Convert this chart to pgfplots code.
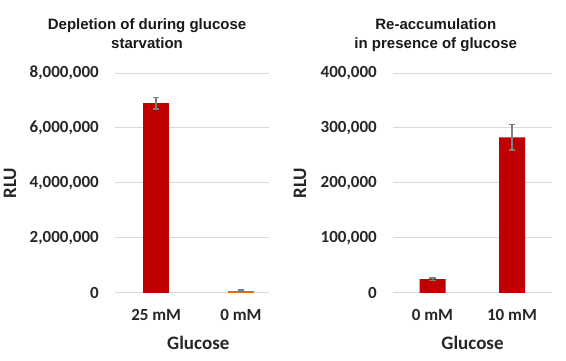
\documentclass[border=0pt]{standalone}
\usepackage{pgfplots}
\pgfplotsset{compat=1.18}
\usepackage{fontspec}
\setmainfont{Carlito}
\newfontfamily\arialf{Liberation Sans}
\definecolor{barred}{HTML}{C00000}
\definecolor{barorange}{HTML}{E46C0A}
\definecolor{gridgray}{HTML}{D9D9D9}
\definecolor{errgray}{HTML}{7F7F7F}
\pgfplotsset{
  mystyle/.style={
    scale only axis,
    height=220pt,
    ymin=0,
    axis line style={draw=none},
    ymajorgrids,
    grid style={gridgray, line width=1pt},
    major tick length=0pt,
    xtick={0,1},
    scaled y ticks=false,
    /pgf/number format/.cd, fixed, 1000 sep={,}, assume math mode=true,
    /pgfplots/.cd,
    ticklabel style={font=\fontsize{17}{20}\selectfont\bfseries\color{black!85}},
    yticklabel style={anchor=east, inner sep=0pt, xshift=-16pt},
    xticklabel style={anchor=base, inner sep=0pt, yshift=-28pt},
    label style={font=\fontsize{19}{22}\selectfont\bfseries\color{black!85}},
    title style={font=\arialf\fontsize{15}{19}\selectfont\bfseries\color{black!90}, align=center, anchor=north, inner sep=0pt},
    ybar,
    bar width=26pt,
    error bars/y dir=both,
    error bars/y explicit,
    error bars/error bar style={errgray, line width=1.5pt},
    error bars/error mark options={errgray, rotate=90, mark size=3.3pt, line width=1.5pt},
  }
}
\begin{document}
\begin{tikzpicture}
\useasboundingbox (0,0) rectangle (566pt,361pt);
\begin{axis}[mystyle,
  at={(115pt,68pt)}, anchor=south west,
  width=154pt,
  xmin=-0.485, xmax=1.33,
  ymax=8000000,
  ytick={0,2000000,4000000,6000000,8000000},
  xticklabels={25 mM, 0 mM},
  title={Depletion of during glucose\\starvation},
  title style={at={(axis description cs:0.208,1.222)}},
  xlabel={Glucose},
  xlabel style={at={(axis description cs:0.541,0)}, anchor=base, yshift=-57pt},
  ylabel={RLU},
  ylabel style={at={(axis description cs:-0.682,0.5)}, anchor=center, rotate=0},
]
\addplot[fill=barred, draw=none, bar shift=0pt] coordinates {(0,6900000) +- (0,207000)};
\addplot[fill=barorange, draw=none, bar shift=0pt] coordinates {(1,85000) +- (0,25000)};
\end{axis}
\begin{axis}[mystyle,
  at={(393pt,68pt)}, anchor=south west,
  width=159pt,
  xmin=-0.497, xmax=1.503,
  ymax=400000,
  ytick={0,100000,200000,300000,400000},
  xticklabels={0 mM, 10 mM},
  title={Re-accumulation\\in presence of glucose},
  title style={at={(axis description cs:0.269,1.222)}},
  xlabel={Glucose},
  xlabel style={at={(axis description cs:0.5,0)}, anchor=base, yshift=-57pt},
  ylabel={RLU},
  ylabel style={at={(axis description cs:-0.585,0.5)}, anchor=center, rotate=0},
]
\addplot[fill=barred, draw=none, bar shift=0pt] coordinates {(0,25000) +- (0,2000) (1,283000) +- (0,23000)};
\end{axis}
\end{tikzpicture}
\end{document}
